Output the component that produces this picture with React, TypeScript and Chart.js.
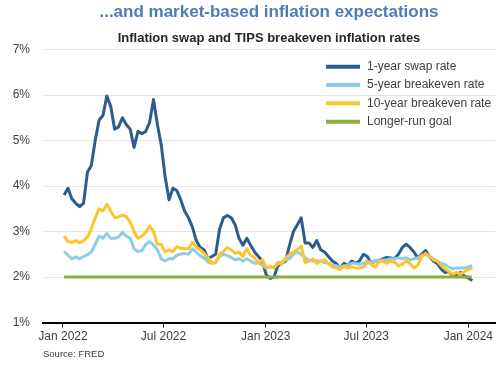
import { useEffect, useRef } from 'react';
import { Chart, registerables } from 'chart.js';

Chart.register(...registerables);

const titleText = '...and market-based inflation expectations';
const subtitleText = 'Inflation swap and TIPS breakeven inflation rates';
const sourceText = 'Source: FRED';

const originDate = '2022-01-01';
const xMinDate = '2021-11-26';
const xMaxDate = '2024-02-18';
const tickDates = ['2022-01-01', '2022-07-01', '2023-01-01', '2023-07-01', '2024-01-01'];
const tickLabels = ['Jan 2022', 'Jul 2022', 'Jan 2023', 'Jul 2023', 'Jan 2024'];
const yTicks = [1, 2, 3, 4, 5, 6, 7];

// weekly observations starting on this date
const firstObservation = '2022-01-03';
const observationStepDays = 7;

const seriesNames = ['1-year swap rate', '5-year breakeven rate', '10-year breakeven rate', 'Longer-run goal'];
const seriesColors = ['#2c5d8c', '#8ecde6', '#fdc52c', '#8aaf3f'];

const oneYearSwap = [
  3.8, 3.95, 3.72, 3.62, 3.55, 3.62, 4.3, 4.45, 5.0, 5.45,
  5.55, 5.98, 5.75, 5.25, 5.3, 5.5, 5.35, 5.25, 4.85, 5.2,
  5.15, 5.2, 5.4, 5.9, 5.35, 4.9, 4.2, 3.7, 3.95, 3.9,
  3.7, 3.45, 3.3, 3.1, 2.8, 2.65, 2.6, 2.4, 2.45, 2.5,
  3.05, 3.3, 3.35, 3.3, 3.15, 2.85, 2.7, 2.85, 2.7, 2.55,
  2.45, 2.35, 2.05, 1.97, 2.0, 2.25, 2.3, 2.35, 2.7, 3.0,
  3.15, 3.3, 2.75, 2.75, 2.65, 2.8, 2.6, 2.55, 2.45, 2.35,
  2.3, 2.2, 2.3, 2.25, 2.35, 2.3, 2.35, 2.5, 2.45, 2.3,
  2.35, 2.35, 2.4, 2.43, 2.42, 2.4, 2.5, 2.65, 2.72, 2.65,
  2.55, 2.42, 2.5, 2.58, 2.45, 2.35, 2.3, 2.18, 2.1, 2.12,
  2.02, 2.05, 2.1, 2.02, 1.98, 1.92,
];

const fiveYearBreakeven = [
  2.56, 2.48, 2.4, 2.44, 2.4, 2.45, 2.49, 2.55, 2.72, 2.9,
  2.85, 2.96, 2.85, 2.85, 2.88, 2.98, 2.9, 2.85, 2.62, 2.56,
  2.58, 2.72, 2.78, 2.7, 2.6, 2.4, 2.35, 2.4, 2.4, 2.48,
  2.5, 2.52, 2.5, 2.62, 2.55, 2.47, 2.42, 2.33, 2.3, 2.32,
  2.45, 2.5, 2.47, 2.43, 2.38, 2.4, 2.35, 2.4, 2.35, 2.3,
  2.32, 2.26, 2.2, 2.22, 2.2, 2.28, 2.33, 2.38, 2.4, 2.5,
  2.55, 2.5, 2.42, 2.37, 2.35, 2.35, 2.35, 2.32, 2.3, 2.26,
  2.25, 2.22, 2.24, 2.26, 2.3, 2.3, 2.28, 2.3, 2.35, 2.32,
  2.35, 2.38, 2.37, 2.38, 2.4, 2.4, 2.42, 2.4, 2.42, 2.38,
  2.4, 2.42, 2.47, 2.5, 2.45, 2.4, 2.35, 2.3, 2.27, 2.22,
  2.18, 2.2, 2.2, 2.2, 2.22, 2.25,
];

const tenYearBreakeven = [
  2.9, 2.78, 2.76, 2.8, 2.75, 2.8, 2.88, 3.05, 3.3, 3.5,
  3.45, 3.6, 3.45, 3.3, 3.32, 3.36, 3.33, 3.2, 3.0, 2.85,
  2.9, 2.98, 3.12, 3.0, 2.72, 2.72, 2.55, 2.6, 2.55, 2.67,
  2.63, 2.62, 2.62, 2.76, 2.66, 2.6, 2.52, 2.43, 2.3, 2.32,
  2.5, 2.56, 2.65, 2.6, 2.52, 2.55, 2.45, 2.62, 2.48, 2.42,
  2.3, 2.38, 2.2, 2.24, 2.2, 2.33, 2.28, 2.42, 2.5, 2.55,
  2.6, 2.68, 2.32, 2.35, 2.4, 2.3, 2.35, 2.38, 2.3, 2.22,
  2.2, 2.16, 2.24, 2.2, 2.22, 2.2, 2.2, 2.22, 2.32, 2.28,
  2.22, 2.33, 2.35, 2.3, 2.35, 2.33, 2.25, 2.28, 2.35, 2.3,
  2.2, 2.26, 2.45, 2.52, 2.45, 2.38, 2.35, 2.25, 2.18, 2.12,
  2.06, 2.1, 2.06, 2.12, 2.16, 2.2,
];

const goalDates = ['2022-01-03', '2024-01-07'];
const goalValues = [2, 2];

const DAY_MS = 86400000;
const dayOf = (iso: string) => (Date.parse(iso + 'T00:00:00Z') - Date.parse(originDate + 'T00:00:00Z')) / DAY_MS;
const weeklyPoints = (values: number[]) => {
  const start = dayOf(firstObservation);
  return values.map((v, i) => ({ x: start + i * observationStepDays, y: v }));
};

const FONT = "'Liberation Sans', Arial, Helvetica, sans-serif";
const TEXT = '#404040';

const insideLegend = {
  id: 'insideLegend',
  afterDatasetsDraw(chart: any) {
    const { ctx, chartArea } = chart;
    const items = [...chart.data.datasets].reverse();
    ctx.save();
    ctx.font = `12px ${FONT}`;
    ctx.textBaseline = 'middle';
    ctx.textAlign = 'left';
    items.forEach((ds: any, i: number) => {
      const y = chartArea.top + 17.2 + i * 18.33;
      const x0 = chartArea.right - 169;
      ctx.strokeStyle = ds.borderColor;
      ctx.lineWidth = 4;
      ctx.lineCap = 'butt';
      ctx.beginPath();
      ctx.moveTo(x0, y);
      ctx.lineTo(x0 + 34, y);
      ctx.stroke();
      ctx.fillStyle = TEXT;
      ctx.fillText(ds.label, x0 + 41, y);
    });
    ctx.restore();
  },
};

const sourceNote = {
  id: 'sourceNote',
  afterDraw(chart: any) {
    const { ctx, chartArea } = chart;
    ctx.save();
    ctx.font = `9.5px ${FONT}`;
    ctx.fillStyle = TEXT;
    ctx.textBaseline = 'middle';
    ctx.textAlign = 'left';
    ctx.fillText(sourceText, chartArea.left, chart.height - 11);
    ctx.restore();
  },
};

export default function App() {
  const canvasRef = useRef<HTMLCanvasElement | null>(null);

  useEffect(() => {
    document.body.style.margin = '0';
    const canvas = canvasRef.current;
    if (!canvas) return;
    Chart.defaults.font.family = FONT;

    const common = { pointRadius: 0, borderWidth: 3, tension: 0, fill: false, borderJoinStyle: 'round' as const };

    const chart = new Chart(canvas, {
      type: 'line',
      data: {
        datasets: [
          {
            ...common,
            label: seriesNames[3],
            data: goalDates.map((d, i) => ({ x: dayOf(d), y: goalValues[i] })),
            borderColor: seriesColors[3],
            backgroundColor: seriesColors[3],
          },
          {
            ...common,
            label: seriesNames[2],
            data: weeklyPoints(tenYearBreakeven),
            borderColor: seriesColors[2],
            backgroundColor: seriesColors[2],
          },
          {
            ...common,
            label: seriesNames[1],
            data: weeklyPoints(fiveYearBreakeven),
            borderColor: seriesColors[1],
            backgroundColor: seriesColors[1],
          },
          {
            ...common,
            label: seriesNames[0],
            data: weeklyPoints(oneYearSwap),
            borderColor: seriesColors[0],
            backgroundColor: seriesColors[0],
          },
        ],
      },
      options: {
        responsive: false,
        animation: false,
        devicePixelRatio: 1,
        layout: { padding: { left: 0, right: 5, top: 0, bottom: 20 } },
        plugins: {
          legend: { display: false },
          tooltip: { enabled: false },
          title: {
            display: true,
            text: titleText,
            color: '#4a7ebb',
            font: { size: 17, weight: 'bold', family: FONT },
            padding: { top: 2, bottom: 4 },
            fullSize: false,
          },
          subtitle: {
            display: true,
            text: subtitleText,
            color: '#262626',
            font: { size: 13, weight: 'bold', family: FONT },
            padding: { top: 3.8, bottom: 3.7 },
            fullSize: false,
          },
        },
        scales: {
          x: {
            type: 'linear',
            min: dayOf(xMinDate),
            max: dayOf(xMaxDate),
            afterBuildTicks: (scale: any) => {
              scale.ticks = tickDates.map((d) => ({ value: dayOf(d) }));
            },
            afterFit: (scale: any) => {
              scale.height = 22.5;
            },
            ticks: {
              autoSkip: false,
              maxRotation: 0,
              minRotation: 0,
              padding: 2,
              color: TEXT,
              font: { size: 12, family: FONT },
              callback: (_v: any, i: number) => tickLabels[i],
            },
            grid: {
              display: true,
              drawOnChartArea: false,
              drawTicks: true,
              tickLength: 5,
              tickColor: '#222',
              tickWidth: 1,
            },
            border: { display: true, color: '#000', width: 2 },
          },
          y: {
            type: 'linear',
            min: yTicks[0],
            max: yTicks[yTicks.length - 1],
            afterBuildTicks: (scale: any) => {
              scale.ticks = yTicks.map((v) => ({ value: v }));
            },
            afterFit: (scale: any) => {
              scale.width = 43;
            },
            ticks: {
              padding: 13,
              color: TEXT,
              font: { size: 12, family: FONT },
              callback: (v: any) => `${v}%`,
            },
            grid: { color: '#e6e6e6', lineWidth: 1, drawTicks: false },
            border: { display: false },
          },
        },
      },
      plugins: [insideLegend, sourceNote],
    } as any);

    return () => chart.destroy();
  }, []);

  return (
    <div style={{ width: 500, height: 365, background: '#fff' }}>
      <canvas ref={canvasRef} width={500} height={365} style={{ display: 'block' }} />
    </div>
  );
}
